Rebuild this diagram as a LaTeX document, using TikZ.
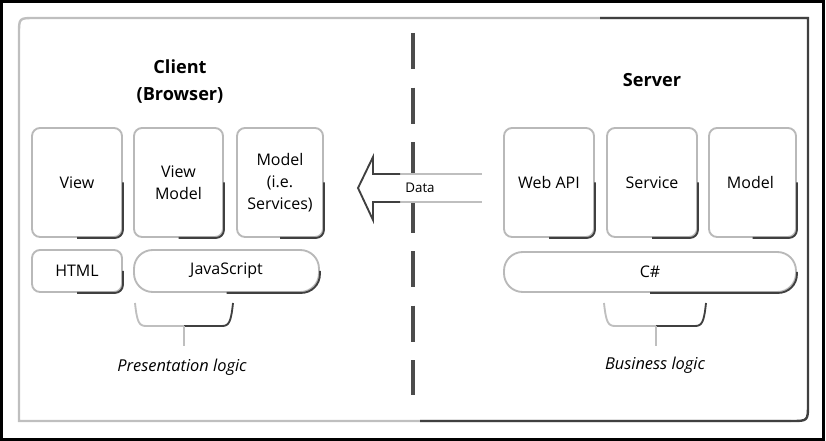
\documentclass[tikz,border=0pt]{standalone}
\usepackage{fontspec}
\setmainfont{Open Sans}
\usetikzlibrary{calc}

\begin{document}
\begin{tikzpicture}[x=0.75pt, y=-0.75pt, font=\fontsize{12}{16.5}\selectfont]
  % styles: pixel grid of the reference, y pointing down
  \tikzset{
    tile/.style={draw=gray!55, line width=1.4pt, rounded corners=6pt, fill=white,
      inner sep=0pt, align=center, minimum height=81.75pt},
    pill/.style={tile, minimum height=31.5pt, rounded corners=14pt},
    darkrim/.style={draw=black!75, line width=1.4pt, rounded corners=6pt},
    heading/.style={font=\fontsize{13.6}{20}\selectfont\bfseries, align=center},
    caption/.style={font=\fontsize{12.3}{14}\selectfont\itshape},
    lightline/.style={draw=gray!50, line width=1.4pt},
    darkline/.style={draw=black!75, line width=1.4pt},
  }
  \useasboundingbox (0,0) rectangle (826,441);

  % outer frame
  \draw[black, line width=2.4pt] (1.6,1.6) rectangle (823.4,439.4);
  \draw[lightline, line width=1.8pt] (808,18) -- (35,18) .. controls (19,18) .. (19,34) -- (19,421) -- (791,421);
  \draw[darkline, line width=1.8pt] (600,18) -- (808,18) -- (808,404) .. controls (808,421) .. (791,421) -- (420,421);

  % divider between client and server
  \coordinate (divtop) at (413,33);
  \coordinate (divbot) at (413,395);
  \draw[black!70, line width=3pt, dash pattern=on 27pt off 13.9pt] (divtop) -- (divbot);

  % data arrow
  \fill[white] (482,174) -- (373,174) -- (373,157) -- (358,188) -- (373,220) -- (373,202) -- (482,202) -- cycle;
  \draw[lightline] (373,174) -- (482,174) (373,202) -- (482,202);
  \draw[darkline, line join=miter] (400,174) -- (373,174) -- (373,157) -- (358,188) -- (373,220) -- (373,202) -- (400,202);
  \node[font=\fontsize{10}{12}\selectfont] (data) at (420,188) {Data};

  % headings
  \node[heading] (client) at (180,81.5) {Client\\(Browser)};
  \node[heading] (server) at (652,80) {Server};

  % component tiles
  \foreach \name/\cx/\w/\txt in {
      view/77/90/View,
      viewmodel/178.5/89/{View\\Model},
      clientmodel/280/86/{Model\\(i.e.\\Services)},
      webapi/549/90/Web API,
      service/652/90/Service,
      servermodel/752.5/87/Model
    }{
    \node[tile, minimum width=\w*0.75pt] (\name) at (\cx,182.5) {\txt};
    \draw[darkrim] (\name.east) -- (\name.south east) -- (\name.south);
  }

  % languages
  \node[tile, minimum height=31.5pt, minimum width=67.5pt] (html) at (77,271) {HTML};
  \node[pill, minimum width=138.75pt] (javascript) at (226.5,271) {JavaScript};
  \node[pill, minimum width=219pt, minimum height=30pt] (csharp) at (650,272) {C\#};
  \foreach \name/\r in {html/6pt, javascript/14pt, csharp/14pt}{
    \draw[darkrim, rounded corners=\r] (\name.east) -- (\name.south east) -- (\name.south);
  }

  % braces with captions
  \node[caption] (presentation) at (182,367) {Presentation logic};
  \node[caption] (business) at (655,365) {Business logic};
  \foreach \l/\m/\r in {135/184/233, 604/656/706}{
    \draw[lightline] (\l,303) .. controls (\l+2,322) and (\l+4,326) .. (\l+11,326) -- (\m,326);
    \draw[darkline] (\m,326) -- (\r-11,326) .. controls (\r-4,326) and (\r-2,322) .. (\r,303);
    \draw[lightline, line width=1.2pt] (\m,326) -- (\m,346);
  }
\end{tikzpicture}
\end{document}
